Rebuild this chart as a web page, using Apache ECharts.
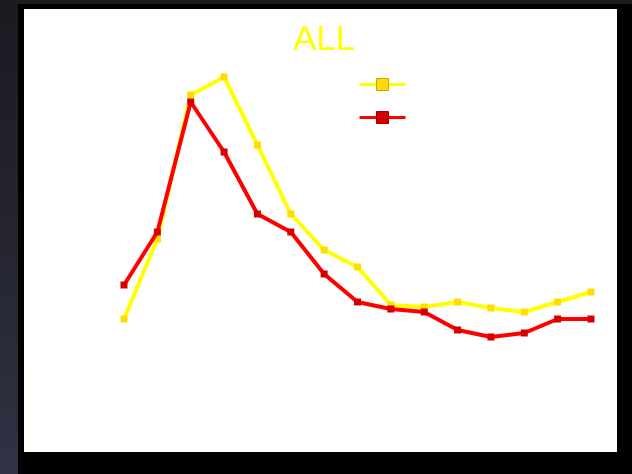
<!DOCTYPE html>
<html>
<head>
<meta charset="utf-8">
<script src="https://cdn.jsdelivr.net/npm/echarts@6/dist/echarts.min.js"></script>
<style>
  html, body { margin: 0; padding: 0; width: 632px; height: 474px; overflow: hidden;
    background: linear-gradient(to bottom, #1a1a21 0%, #24252f 50%, #303345 100%); }
  #frame { position: absolute; left: 18px; top: 4px; width: 614px; height: 470px; background: #000; }
  #chart { position: absolute; left: 24px; top: 9px; width: 593px; height: 443px; background: #fff; }
</style>
</head>
<body>
<div id="frame"></div>
<div id="chart"></div>
<script>
const titleText = 'ALL';
const categories = ['1','2','3','4','5','6','7','8','9','10','11','12','13','14','15'];
const seriesNames = ['Series 1', 'Series 2'];
const yellowValues = [27, 47, 83, 87.5, 70.5, 53.25, 44.25, 40, 30.5, 30, 31.25, 29.75, 28.75, 31.25, 33.75];
const redValues = [35.5, 48.75, 81.25, 68.75, 53.25, 48.75, 38.25, 31.25, 29.5, 28.75, 24.25, 22.5, 23.5, 27, 27];

const chart = echarts.init(document.getElementById('chart'), null, { renderer: 'canvas' });
chart.setOption({
  backgroundColor: '#ffffff',
  animation: false,
  title: {
    text: titleText,
    left: 264,
    top: 9,
    textStyle: { color: '#ffff00', fontSize: 35, fontWeight: 'normal', fontFamily: 'Liberation Sans, Arial, sans-serif' }
  },
  legend: {
    orient: 'vertical',
    left: 334,
    top: 68,
    padding: 0,
    itemWidth: 46,
    itemHeight: 15,
    itemGap: 19,
    formatter: function () { return ''; },
    data: [
      { name: seriesNames[0], itemStyle: { color: '#ffdd00', borderColor: '#c8a800', borderWidth: 1 }, lineStyle: { color: '#ffff00', width: 3 } },
      { name: seriesNames[1], itemStyle: { color: '#d40000', borderColor: '#a00000', borderWidth: 1 }, lineStyle: { color: '#ff0000', width: 3 } }
    ]
  },
  grid: { left: 100, right: 26, top: 18, bottom: 25 },
  xAxis: {
    type: 'category',
    data: categories,
    boundaryGap: false,
    show: false
  },
  yAxis: {
    type: 'value',
    min: 0,
    max: 100,
    show: false
  },
  series: [
    {
      name: seriesNames[0],
      type: 'line',
      data: yellowValues,
      symbol: 'rect',
      symbolSize: 7,
      lineStyle: { color: '#ffff00', width: 4 },
      itemStyle: { color: '#ffdd00' },
      z: 2
    },
    {
      name: seriesNames[1],
      type: 'line',
      data: redValues,
      symbol: 'rect',
      symbolSize: 7,
      lineStyle: { color: '#ff0000', width: 4 },
      itemStyle: { color: '#d40000' },
      z: 3
    }
  ]
});
</script>
</body>
</html>
